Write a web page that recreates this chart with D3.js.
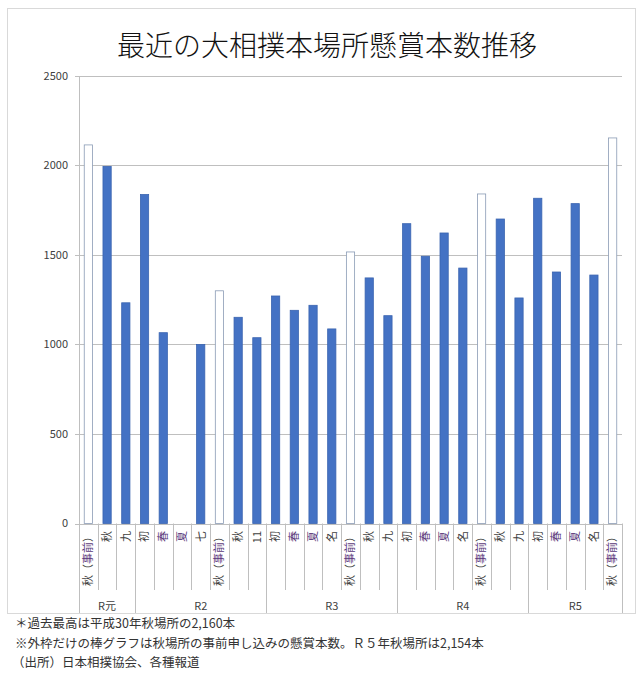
<!DOCTYPE html>
<html>
<head>
<meta charset="utf-8">
<script src="https://cdn.jsdelivr.net/npm/d3@7"></script>
<style>
  body { margin: 0; background: #fff; }
  text { font-family: "Noto Sans CJK JP", "Noto Sans", sans-serif; }
</style>
</head>
<body>
<div id="chart"></div>
<script>
// basho labels, in order
const categories = [
  "秋（事前）", "秋", "九",
  "初", "春", "夏", "七", "秋（事前）", "秋", "11",
  "初", "春", "夏", "名", "秋（事前）", "秋", "九",
  "初", "春", "夏", "名", "秋（事前）", "秋", "九",
  "初", "春", "夏", "名", "秋（事前）"
];
// kensho count per basho (null = basho cancelled)
const values = [
  2115, 1995, 1233,
  1838, 1066, null, 1000, 1300, 1152, 1038,
  1271, 1191, 1219, 1087, 1517, 1372, 1161,
  1675, 1493, 1623, 1427, 1841, 1701, 1260,
  1817, 1405, 1787, 1388, 2154
];
const groupLabels = ["R元", "R2", "R3", "R4", "R5"];
const groupSizes = [3, 7, 7, 7, 5];
const yTicks = [0, 500, 1000, 1500, 2000, 2500];
const title = "最近の大相撲本場所懸賞本数推移";
const notes = [
  "＊過去最高は平成30年秋場所の2,160本",
  "※外枠だけの棒グラフは秋場所の事前申し込みの懸賞本数。Ｒ５年秋場所は2,154本",
  "（出所）日本相撲協会、各種報道"
];

const W = 640, H = 681;
const plotL = 79, plotR = 622, plotT = 76, plotB = 523.5, frameB = 613;
const purple = "#5b3a7a";
const hl = /[春夏事前]/;

const svg = d3.select("#chart").append("svg")
  .attr("width", W).attr("height", H);

svg.append("rect")
  .attr("x", 7.5).attr("y", 8.5)
  .attr("width", 628).attr("height", frameB - 8)
  .attr("fill", "#fff").attr("stroke", "#d9d9d9");

svg.append("text")
  .attr("x", 327).attr("y", 56)
  .attr("text-anchor", "middle")
  .attr("font-size", 28).attr("font-weight", 300)
  .attr("fill", "#111")
  .text(title);

const x = d3.scaleBand()
  .domain(d3.range(categories.length))
  .range([plotL, plotR])
  .paddingInner(0.56)
  .paddingOuter(0.28);
const step = x.step();

const y = d3.scaleLinear().domain([0, 2500]).range([plotB, plotT]);

// gridlines + y labels
svg.append("g").selectAll("line")
  .data(yTicks).enter().append("line")
  .attr("x1", plotL - 4).attr("x2", plotR)
  .attr("y1", d => Math.round(y(d)) + 0.5).attr("y2", d => Math.round(y(d)) + 0.5)
  .attr("stroke", "#bfbfbf");

svg.append("g").selectAll("text")
  .data(yTicks).enter().append("text")
  .attr("x", 68).attr("y", d => y(d))
  .attr("dy", "0.35em")
  .attr("text-anchor", "end")
  .attr("font-size", 11).attr("fill", "#404040")
  .text(d => d);

// y axis line
svg.append("line")
  .attr("x1", plotL + 0.5).attr("x2", plotL + 0.5)
  .attr("y1", plotT).attr("y2", frameB)
  .attr("stroke", "#bfbfbf");

// category separators
const groupEnds = Array.from(d3.cumsum(groupSizes));
svg.append("g").selectAll("line")
  .data(d3.range(1, categories.length + 1)).enter().append("line")
  .attr("x1", i => Math.round(plotL + i * step) + 0.5)
  .attr("x2", i => Math.round(plotL + i * step) + 0.5)
  .attr("y1", plotB)
  .attr("y2", i => groupEnds.includes(i) ? frameB : 590)
  .attr("stroke", "#bfbfbf");

// bars
svg.append("g").selectAll("rect")
  .data(values.map((v, i) => ({ v, i, pre: categories[i].includes("事前") }))
    .filter(d => d.v != null))
  .enter().append("rect")
  .attr("x", d => x(d.i))
  .attr("y", d => y(d.v))
  .attr("width", x.bandwidth())
  .attr("height", d => y(0) - y(d.v))
  .attr("fill", d => d.pre ? "#fff" : "#4472c4")
  .attr("stroke", d => d.pre ? "#8a9bb5" : "#3a64b0")
  .attr("stroke-width", 0.8);

// category labels, rotated
const lab = svg.append("g").selectAll("text")
  .data(categories).enter().append("text")
  .attr("transform", (d, i) => `translate(${x(i) + x.bandwidth() / 2},531) rotate(-90)`)
  .attr("dy", "0.35em")
  .attr("text-anchor", "end")
  .attr("font-size", 11).attr("fill", "#404040");
lab.each(function (d) {
  const t = d3.select(this);
  d.split("").forEach(ch => {
    t.append("tspan").attr("fill", hl.test(ch) ? purple : "#404040").text(ch);
  });
});

// group labels
const starts = [0].concat(groupEnds.slice(0, -1));
svg.append("g").selectAll("text")
  .data(groupLabels).enter().append("text")
  .attr("x", (d, i) => plotL + (starts[i] + groupSizes[i] / 2) * step)
  .attr("y", 610)
  .attr("text-anchor", "middle")
  .attr("font-size", 11).attr("fill", "#404040")
  .text(d => d);

// footnotes
svg.append("g").selectAll("text")
  .data(notes).enter().append("text")
  .attr("x", (d, i) => i < 2 ? 15 : 12).attr("y", (d, i) => 628 + i * 19.5)
  .attr("font-size", 12.5).attr("fill", "#333")
  .text(d => d);
</script>
</body>
</html>
